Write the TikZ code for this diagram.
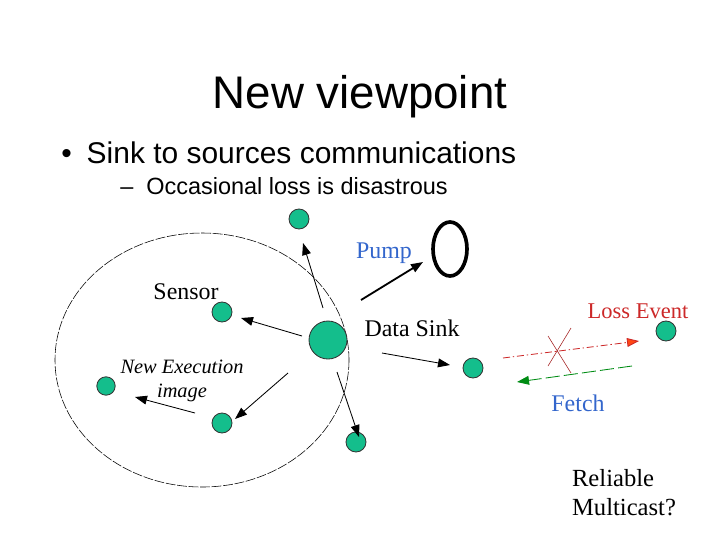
\documentclass[tikz,border=0pt]{standalone}
\usepackage{fontspec}
\setmainfont{Liberation Serif}
\newfontfamily\slidefont{Liberation Sans}
\usepackage{tikz}
\usetikzlibrary{arrows.meta, shapes.geometric}
\definecolor{dotgreen}{RGB}{20,190,140}
\definecolor{pumpblue}{RGB}{51,102,204}
\definecolor{lossred}{RGB}{204,40,40}
\definecolor{orangered}{RGB}{255,70,20}
\definecolor{fetchgreen}{RGB}{0,140,20}
\tikzstyle{dot} = [circle, draw=black!80, fill=dotgreen, line width=0.6pt, minimum size=0.5cm, inner sep=0pt]
\tikzstyle{label} = [inner sep=0pt, font=\fontsize{17}{19}\selectfont]
\tikzstyle{arrow} = [line width=0.6pt, -{Triangle[length=3mm, width=2.2mm]}]

\begin{document}
\begin{tikzpicture}[x=0.025cm, y=-0.025cm]
  \useasboundingbox (0,0) rectangle (720,540);
  % slide text
  \node[inner sep=0pt, font=\slidefont\fontsize{32.5}{36}\selectfont] (title) at (360,97) {New viewpoint};
  \node[inner sep=0pt, anchor=west, font=\slidefont\fontsize{21.3}{24}\selectfont] (bullet) at (61,153) {\textbullet\hspace{0.5em}Sink to sources communications};
  \node[inner sep=0pt, anchor=west, font=\slidefont\fontsize{16.7}{19}\selectfont] (sub) at (120,186) {\textendash\hspace{0.55em}Occasional loss is disastrous};

  % sensor field
  \draw[line width=0.4pt, dash pattern=on 7pt off 1.2pt] (202,360) ellipse [x radius=147, y radius=127];
  \draw[line width=2.6pt] (450,249) ellipse [x radius=17, y radius=27];

  \node[dot] (top) at (299,219) {};
  \node[dot] (sensor) at (222,312) {};
  \node[dot, minimum size=0.95cm] (sink) at (328,340) {};
  \node[dot, minimum size=0.46cm] (left) at (106,386) {};
  \node[dot] (lower) at (222,423) {};
  \node[dot] (bottom) at (356,442) {};
  \node[dot] (mid) at (473,368) {};
  \node[dot] (far) at (666,331) {};

  % labels
  \node[label, text=pumpblue] (pump) at (384,253) {Pump};
  \node[label] (sensorlbl) at (186,292) {Sensor};
  \node[label] (sinklbl) at (412,328) {Data Sink};
  \node[label, align=center, font=\itshape\fontsize{14.5}{17}\selectfont] (image) at (182,381) {New Execution\\image};
  \node[label, text=lossred, font=\fontsize{16}{18}\selectfont] (loss) at (638,311) {Loss Event};
  \node[label, text=pumpblue] (fetch) at (578,403) {Fetch};
  \node[label, align=left, font=\fontsize{17.5}{20.5}\selectfont] (reliable) at (624,493) {Reliable\\Multicast?};

  % arrow ends
  \coordinate (s1) at (323,308);  \coordinate (t1) at (303,243);
  \coordinate (s2) at (302,336);  \coordinate (t2) at (241,318);
  \coordinate (s3) at (288,373);  \coordinate (t3) at (235,419);
  \coordinate (s4) at (195,413);  \coordinate (t4) at (135,397);
  \coordinate (s5) at (337,372);  \coordinate (t5) at (359,437);
  \coordinate (s6) at (361,300);  \coordinate (t6) at (423,262);
  \coordinate (s7) at (382,353);  \coordinate (t7) at (450,365);
  \coordinate (s8) at (503,358);  \coordinate (t8) at (639,341);
  \coordinate (s9) at (632,366);  \coordinate (t9) at (517,382);
  \coordinate (x1) at (548,336);  \coordinate (x2) at (571,373);
  \coordinate (x3) at (571,328);  \coordinate (x4) at (548,366);

  \draw[arrow] (s1) -- (t1);
  \draw[arrow] (s2) -- (t2);
  \draw[arrow] (s3) -- (t3);
  \draw[arrow] (s4) -- (t4);
  \draw[arrow] (s5) -- (t5);
  \draw[arrow, line width=1.3pt] (s6) -- (t6);
  \draw[arrow] (s7) -- (t7);
  \draw[arrow, draw=lossred, dash pattern=on 5pt off 2pt on 1pt off 2pt, -{Triangle[length=3mm, width=2.2mm, fill=orangered]}] (s8) -- (t8);
  \draw[arrow, draw=fetchgreen, dash pattern=on 10pt off 3pt, -{Triangle[length=3mm, width=2.2mm, fill=fetchgreen]}] (s9) -- (t9);
  \draw[lossred!80!black, line width=0.4pt] (x1) -- (x2);
  \draw[lossred!80!black, line width=0.4pt] (x3) -- (x4);
\end{tikzpicture}
\end{document}
